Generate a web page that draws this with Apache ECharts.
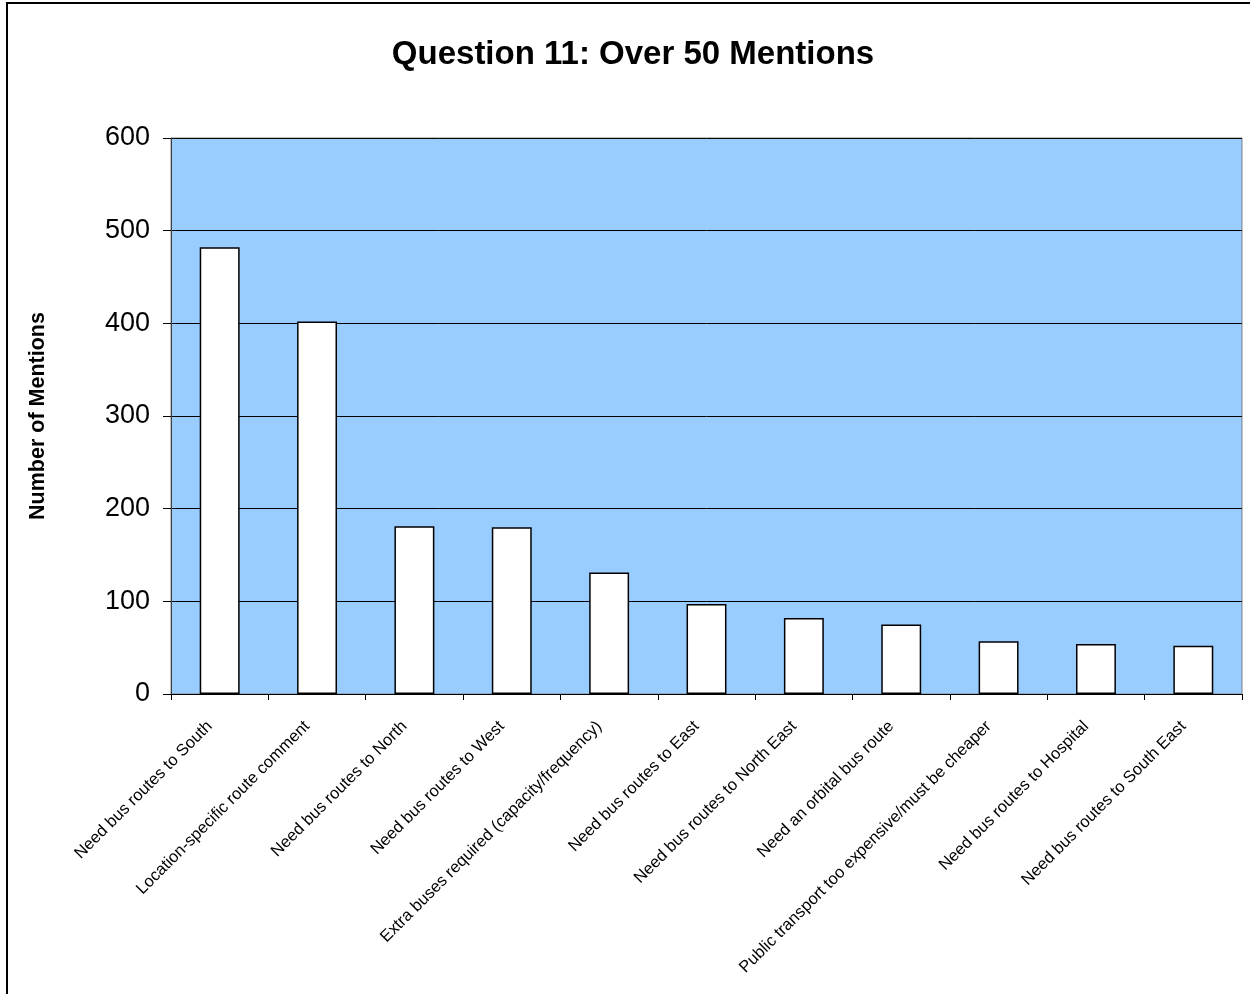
<!DOCTYPE html>
<html>
<head>
<meta charset="utf-8">
<script src="https://cdn.jsdelivr.net/npm/echarts@6/dist/echarts.min.js"></script>
<style>
html,body{margin:0;padding:0;background:#fff;}
#chart{width:1250px;height:994px;}
</style>
</head>
<body>
<div id="chart"></div>
<script>
const categories = [
  "Need bus routes to South",
  "Location-specific route comment",
  "Need bus routes to North",
  "Need bus routes to West",
  "Extra buses required (capacity/frequency)",
  "Need bus routes to East",
  "Need bus routes to North East",
  "Need an orbital bus route",
  "Public transport too expensive/must be cheaper",
  "Need bus routes to Hospital",
  "Need bus routes to South East"
];
const mentions = [482, 402, 181, 180, 131, 97, 82, 75, 57, 54, 52];
const yTicks = { min: 0, max: 600, interval: 100 };
const titleText = "Question 11: Over 50 Mentions";
const yAxisName = "Number of Mentions";

const chart = echarts.init(document.getElementById('chart'), null, { renderer: 'canvas' });
chart.setOption({
  backgroundColor: '#ffffff',
  animation: false,
  title: {
    text: titleText,
    left: 628, top: 33, textAlign: 'center',
    textStyle: { fontFamily: 'Liberation Sans, Arial, sans-serif', fontWeight: 'bold', fontSize: 33, color: '#000' }
  },
  graphic: [{
    type: 'rect', silent: true,
    shape: { x: 7, y: 3, width: 1300, height: 1100 },
    style: { fill: 'none', stroke: '#000', lineWidth: 2 }
  }],
  grid: {
    left: 171, right: 8, top: 138, bottom: 300,
    show: true, backgroundColor: '#99CCFF', borderColor: '#808080', borderWidth: 1,
    containLabel: false
  },
  xAxis: {
    type: 'category', data: categories, boundaryGap: true,
    axisLine: { show: true, lineStyle: { color: '#000', width: 1 } },
    axisTick: { show: true, length: 6, lineStyle: { color: '#000' } },
    axisLabel: {
      rotate: 45, interval: 0, margin: 20, padding: [0, 14, 0, 0],
      fontFamily: 'Liberation Sans, Arial, sans-serif', fontSize: 16.5, color: '#000'
    },
    splitLine: { show: false }
  },
  yAxis: {
    type: 'value', min: yTicks.min, max: yTicks.max, interval: yTicks.interval,
    name: yAxisName, nameLocation: 'middle', nameGap: 122, nameRotate: 90,
    nameTextStyle: { fontFamily: 'Liberation Sans, Arial, sans-serif', fontWeight: 'bold', fontSize: 21.5, color: '#000' },
    axisLine: { show: true, lineStyle: { color: '#404040', width: 1 } },
    axisTick: { show: true, length: 8, lineStyle: { color: '#000' } },
    axisLabel: { margin: 21, fontFamily: 'Liberation Sans, Arial, sans-serif', fontSize: 27, color: '#000' },
    splitLine: { show: true, lineStyle: { color: '#000', width: 1 } }
  },
  series: [{
    type: 'bar', data: mentions, barWidth: '41%',
    itemStyle: { color: '#ffffff', borderColor: '#000', borderWidth: 1.5 }
  }]
});
</script>
</body>
</html>
